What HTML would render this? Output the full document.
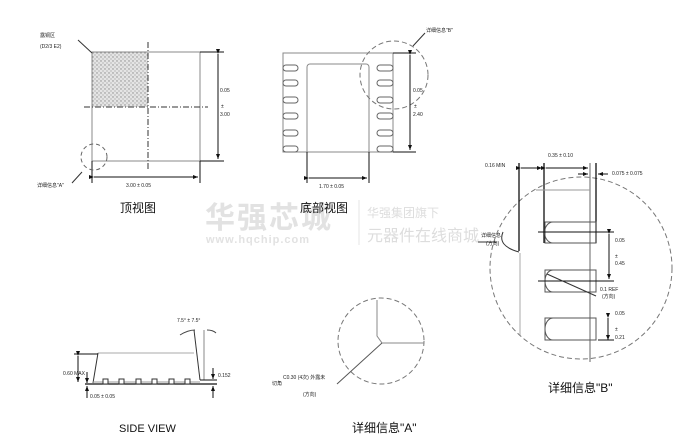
<!DOCTYPE html>
<html><head><meta charset="utf-8"><style>
html,body{margin:0;padding:0;background:#fff;}
svg{display:block;}
text{font-family:"Liberation Sans","Noto Sans CJK SC",sans-serif;fill:#222;}
.s{font-size:5px;}
.t{font-size:12px;fill:#111;}
</style></head><body>
<svg width="698" height="446" viewBox="0 0 698 446" xmlns="http://www.w3.org/2000/svg">
<defs>
<pattern id="dots" width="4" height="4" patternUnits="userSpaceOnUse">
<rect width="4" height="4" fill="#e4e4e4"/>
<circle cx="1" cy="1" r="0.7" fill="#888"/><circle cx="3" cy="3" r="0.6" fill="#999"/>
</pattern>
<marker id="a" markerUnits="userSpaceOnUse" markerWidth="5" markerHeight="4" refX="5" refY="2" orient="auto"><path d="M0,0L5,2L0,4z" fill="#111"/></marker>
</defs>
<!-- watermark -->
<text x="205" y="228" style="font-size:30px;font-weight:bold;fill:#e2e2e2;letter-spacing:2px">华强芯城</text>
<text x="206" y="243" style="font-size:11px;font-weight:bold;fill:#e2e2e2;letter-spacing:1px">www.hqchip.com</text>
<text x="367" y="217" style="font-size:12px;fill:#ddd">华强集团旗下</text>
<text x="367" y="241" style="font-size:16px;fill:#ddd">元器件在线商城</text>
<line x1="359" y1="200" x2="359" y2="245" stroke="#e4e4e4"/>

<!-- TOP VIEW -->
<rect x="92" y="52" width="56" height="55" fill="url(#dots)"/>
<rect x="92" y="52" width="108" height="109" fill="none" stroke="#888" stroke-width="1"/>
<line x1="148" y1="42" x2="148" y2="170" stroke="#333" stroke-dasharray="6,2,1,2"/>
<line x1="84" y1="107" x2="208" y2="107" stroke="#333" stroke-dasharray="6,2,1,2"/>
<line x1="200" y1="52" x2="224" y2="52" stroke="#111"/>
<line x1="200" y1="161" x2="224" y2="161" stroke="#111"/>
<line x1="218" y1="54" x2="218" y2="159" stroke="#111" marker-start="url(#a)" marker-end="url(#a)"/>
<text class="s" x="220" y="92">0.05</text><text class="s" x="221" y="108">±</text><text class="s" x="220" y="116">3.00</text>
<line x1="92" y1="161" x2="92" y2="183" stroke="#111"/><line x1="200" y1="161" x2="200" y2="183" stroke="#111"/>
<line x1="94" y1="177" x2="198" y2="177" stroke="#111" marker-start="url(#a)" marker-end="url(#a)"/>
<text class="s" x="126" y="187">3.00 ± 0.05</text>
<circle cx="94" cy="157" r="13" fill="none" stroke="#666" stroke-dasharray="4,3"/>
<line x1="82" y1="172" x2="72" y2="183" stroke="#333"/>
<text class="s" x="37" y="187">详细信息"A"</text>
<text class="s" x="40" y="37">露铜区</text><text class="s" x="40" y="48">(D2/3   E2)</text>
<line x1="78" y1="40" x2="92" y2="53" stroke="#333"/>
<text class="t" x="120" y="212">顶视图</text>

<!-- BOTTOM VIEW -->
<rect x="283" y="53" width="110" height="99" fill="none" stroke="#888"/>
<path d="M307,152V67a3,3 0 0 1 3,-3H366a3,3 0 0 1 3,3V152" fill="none" stroke="#888"/>
<g fill="none" stroke="#666">
<rect x="283" y="65" width="15" height="6" rx="3"/><rect x="283" y="80" width="15" height="6" rx="3"/>
<rect x="283" y="97" width="15" height="6" rx="3"/><rect x="283" y="113" width="15" height="6" rx="3"/>
<rect x="283" y="130" width="15" height="6" rx="3"/><rect x="283" y="146" width="15" height="6" rx="3"/>
<rect x="377" y="65" width="16" height="6" rx="3"/><rect x="377" y="80" width="16" height="6" rx="3"/>
<rect x="377" y="97" width="16" height="6" rx="3"/><rect x="377" y="113" width="16" height="6" rx="3"/>
<rect x="377" y="130" width="16" height="6" rx="3"/><rect x="377" y="146" width="16" height="6" rx="3"/>
</g>
<circle cx="394" cy="75" r="34" fill="none" stroke="#777" stroke-dasharray="5,3"/>
<line x1="413" y1="46" x2="425" y2="33" stroke="#333"/>
<text class="s" x="426" y="32">详细信息"B"</text>
<line x1="393" y1="53" x2="416" y2="53" stroke="#111"/><line x1="393" y1="152" x2="416" y2="152" stroke="#111"/>
<line x1="410" y1="55" x2="410" y2="150" stroke="#111" marker-start="url(#a)" marker-end="url(#a)"/>
<text class="s" x="413" y="92">0.05</text><text class="s" x="414" y="108">±</text><text class="s" x="413" y="116">2.40</text>
<line x1="307" y1="152" x2="307" y2="183" stroke="#111"/><line x1="369" y1="152" x2="369" y2="183" stroke="#111"/>
<line x1="309" y1="178" x2="367" y2="178" stroke="#111" marker-start="url(#a)" marker-end="url(#a)"/>
<text class="s" x="319" y="188">1.70 ± 0.05</text>
<text class="t" x="300" y="212">底部视图</text>

<!-- DETAIL B -->
<circle cx="581" cy="268" r="91" fill="none" stroke="#777" stroke-dasharray="5,3"/>
<line x1="519" y1="163" x2="519" y2="251" stroke="#111" stroke-width="1.3"/>
<line x1="520" y1="253" x2="520" y2="335" stroke="#aaa"/>
<line x1="544" y1="163" x2="544" y2="243" stroke="#111" stroke-width="1.3"/>
<line x1="590" y1="163" x2="590" y2="362" stroke="#666"/>
<line x1="596" y1="163" x2="596" y2="243" stroke="#111" stroke-width="1.3"/>
<line x1="536" y1="190" x2="590" y2="190" stroke="#999"/>
<line x1="521" y1="168" x2="542" y2="168" stroke="#111" marker-start="url(#a)" marker-end="url(#a)"/>
<line x1="546" y1="168" x2="588" y2="168" stroke="#111" marker-start="url(#a)" marker-end="url(#a)"/>
<line x1="578" y1="174" x2="588" y2="174" stroke="#111" marker-end="url(#a)"/>
<line x1="608" y1="174" x2="598" y2="174" stroke="#111" marker-end="url(#a)"/>
<text class="s" x="548" y="157">0.35 ± 0.10</text>
<text class="s" x="485" y="167">0.16 MIN</text>
<text class="s" x="612" y="175">0.075 ± 0.075</text>
<g fill="none" stroke="#555">
<path d="M545,222H596V243H545zM553,222a8,10 0 0 0 0,21"/>
<path d="M545,270H596V292H545zM553,270a8,11 0 0 0 0,22"/>
<path d="M545,318H596V340H545zM553,318a8,11 0 0 0 0,22"/>
</g>
<line x1="538" y1="232" x2="614" y2="232" stroke="#111"/>
<line x1="538" y1="281" x2="614" y2="281" stroke="#111"/>
<line x1="609" y1="234" x2="609" y2="279" stroke="#111" marker-start="url(#a)" marker-end="url(#a)"/>
<text class="s" x="615" y="242">0.05</text><text class="s" x="615" y="258">±</text><text class="s" x="615" y="265">0.45</text>
<line x1="547" y1="274" x2="596" y2="296" stroke="#333"/>
<text class="s" x="600" y="291">0.1 REF</text><text class="s" x="602" y="298">(方向)</text>
<line x1="608" y1="318" x2="608" y2="340" stroke="#111" marker-start="url(#a)" marker-end="url(#a)"/>
<line x1="598" y1="340" x2="614" y2="340" stroke="#111"/>
<text class="s" x="615" y="315">0.05</text><text class="s" x="615" y="331">±</text><text class="s" x="615" y="339">0.21</text>
<line x1="478" y1="242" x2="497" y2="242" stroke="#333"/>
<path d="M503,232Q497,246 519,252" fill="none" stroke="#333"/>
<text class="s" x="481" y="237">详细信息</text><text class="s" x="486" y="245">(方向)</text>
<text class="t" x="548" y="392">详细信息"B"</text>

<!-- SIDE VIEW -->
<line x1="98" y1="353" x2="194" y2="353" stroke="#aaa"/>
<line x1="98" y1="353" x2="93" y2="383" stroke="#333"/>
<line x1="194" y1="330" x2="200" y2="380" stroke="#333"/>
<line x1="204" y1="330" x2="204" y2="380" stroke="#888"/>
<path d="M180,335Q188,330 195,330M207,330Q213,330 216,333" fill="none" stroke="#444"/>
<text class="s" x="177" y="322">7.5° ± 7.5°</text>
<line x1="85" y1="384" x2="217" y2="384" stroke="#111" stroke-width="1.3"/>
<line x1="93" y1="382" x2="200" y2="382" stroke="#999"/>
<g fill="#fff" stroke="#333">
<rect x="103" y="379" width="5" height="5"/><rect x="119" y="379" width="5" height="5"/><rect x="136" y="379" width="5" height="5"/>
<rect x="152" y="379" width="5" height="5"/><rect x="169" y="379" width="5" height="5"/><rect x="185" y="379" width="5" height="5"/>
</g>
<line x1="200" y1="380" x2="217" y2="380" stroke="#111"/>
<line x1="74" y1="354" x2="98" y2="354" stroke="#111"/>
<line x1="78" y1="356" x2="78" y2="382" stroke="#111" marker-start="url(#a)" marker-end="url(#a)"/>
<line x1="87" y1="372" x2="87" y2="383" stroke="#111" marker-end="url(#a)"/>
<line x1="87" y1="398" x2="87" y2="386" stroke="#111" marker-end="url(#a)"/>
<text class="s" x="63" y="375">0.60 MAX</text>
<text class="s" x="90" y="398">0.05 ± 0.05</text>
<line x1="213" y1="368" x2="213" y2="379" stroke="#111" marker-end="url(#a)"/>
<line x1="213" y1="398" x2="213" y2="386" stroke="#111" marker-end="url(#a)"/>
<text class="s" x="218" y="377">0.152</text>
<text x="119" y="432" style="font-size:11px;fill:#111">SIDE VIEW</text>

<!-- DETAIL A -->
<circle cx="381" cy="341" r="43" fill="none" stroke="#777" stroke-dasharray="5,3"/>
<path d="M377,300V336L382,343H424" fill="none" stroke="#888"/>
<line x1="382" y1="343" x2="337" y2="384" stroke="#555"/>
<text class="s" x="283" y="379">C0.30 (4次) 外露未</text>
<text class="s" x="272" y="385">切角</text>
<text class="s" x="303" y="396">(方向)</text>
<text class="t" x="352" y="432">详细信息"A"</text>
</svg>
</body></html>
